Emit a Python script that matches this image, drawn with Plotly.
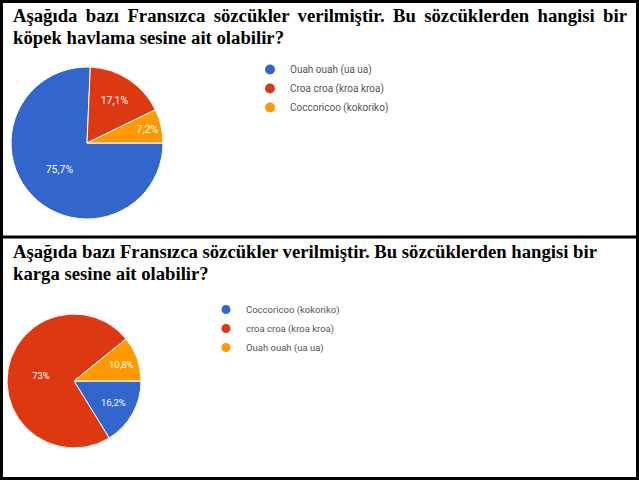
import plotly.graph_objects as go

W, H = 639, 480

# ---- text / data ----
title1_line1 = "Aşağıda bazı Fransızca sözcükler verilmiştir. Bu sözcüklerden hangisi bir"
title1_line2 = "köpek havlama sesine ait olabilir?"
title2_line1 = "Aşağıda bazı Fransızca sözcükler verilmiştir. Bu sözcüklerden hangisi bir"
title2_line2 = "karga sesine ait olabilir?"

labels1 = ["Ouah ouah (ua ua)", "Croa croa (kroa kroa)", "Coccoricoo (kokoriko)"]
values1 = [75.7, 17.1, 7.2]

labels2 = ["Coccoricoo (kokoriko)", "croa croa (kroa kroa)", "Ouah ouah (ua ua)"]
values2 = [16.2, 73, 10.8]

colors = ["#3366cc", "#dc3912", "#ff9900"]


def pct(v):
    return f"{v:g}".replace(".", ",") + "%"


def px(x):
    return x / W


def py(y):
    return 1 - y / H


fig = go.Figure()

# ---- pies ----
fig.add_trace(go.Pie(
    labels=labels1, values=values1, text=[pct(v) for v in values1],
    textinfo="text", sort=False, direction="clockwise", rotation=90,
    marker=dict(colors=colors, line=dict(color="white", width=1)),
    textfont=dict(color="white", size=10.5, family="Roboto"),
    insidetextorientation="horizontal", textposition="inside",
    domain=dict(x=[px(11), px(163)], y=[py(219), py(67)]),
    showlegend=False, hoverinfo="label+percent",
))
fig.add_trace(go.Pie(
    labels=labels2, values=values2, text=[pct(v) for v in values2],
    textinfo="text", sort=False, direction="clockwise", rotation=90,
    marker=dict(colors=colors, line=dict(color="white", width=1)),
    textfont=dict(color="white", size=9.5, family="Roboto"),
    insidetextorientation="horizontal", textposition="inside",
    domain=dict(x=[px(7), px(141)], y=[py(448), py(314)]),
    showlegend=False, hoverinfo="label+percent",
))

# ---- legend entries (round markers like the original) ----
for lab, c in zip(labels1, colors):
    fig.add_trace(go.Scatter(x=[None], y=[None], mode="markers", name=lab,
                             marker=dict(color=c, size=10), legend="legend"))
for lab, c in zip(labels2, colors):
    fig.add_trace(go.Scatter(x=[None], y=[None], mode="markers", name=lab,
                             marker=dict(color=c, size=9), legend="legend2"))

# ---- titles ----
serif = "Liberation Serif, Times New Roman, serif"
ann = []
for txt, y in [(" \u2009".join(title1_line1.split(" ")), 16),
               (title1_line2, 37),
               (title2_line1, 251),
               (title2_line2, 273)]:
    ann.append(dict(text=f"<b>{txt}</b>", x=px(11), y=py(y), xref="paper", yref="paper",
                    xanchor="left", yanchor="middle", showarrow=False,
                    font=dict(family=serif, size=18.7, color="black")))

# ---- table borders ----
shapes = [
    dict(type="rect", xref="paper", yref="paper", x0=px(1.5), x1=px(637.5),
         y0=py(478.5), y1=py(1.5), line=dict(color="black", width=3)),
    dict(type="line", xref="paper", yref="paper", x0=0, x1=1,
         y0=py(237), y1=py(237), line=dict(color="black", width=3)),
]

fig.update_layout(
    width=W, height=H, margin=dict(l=0, r=0, t=0, b=0),
    paper_bgcolor="white", plot_bgcolor="white",
    xaxis=dict(visible=False), yaxis=dict(visible=False),
    annotations=ann, shapes=shapes,
    legend=dict(x=px(250), y=py(55), xanchor="left", yanchor="top",
                font=dict(family="Roboto", size=10, color="#555555"),
                bgcolor="rgba(0,0,0,0)", tracegroupgap=0),
    legend2=dict(x=px(206), y=py(295), xanchor="left", yanchor="top",
                 font=dict(family="Roboto", size=9.5, color="#555555"),
                 bgcolor="rgba(0,0,0,0)", tracegroupgap=0),
)

fig.write_html("out.html", config={"displayModeBar": False},
               post_script="document.body.style.margin='0px';document.body.style.overflow='hidden';")
